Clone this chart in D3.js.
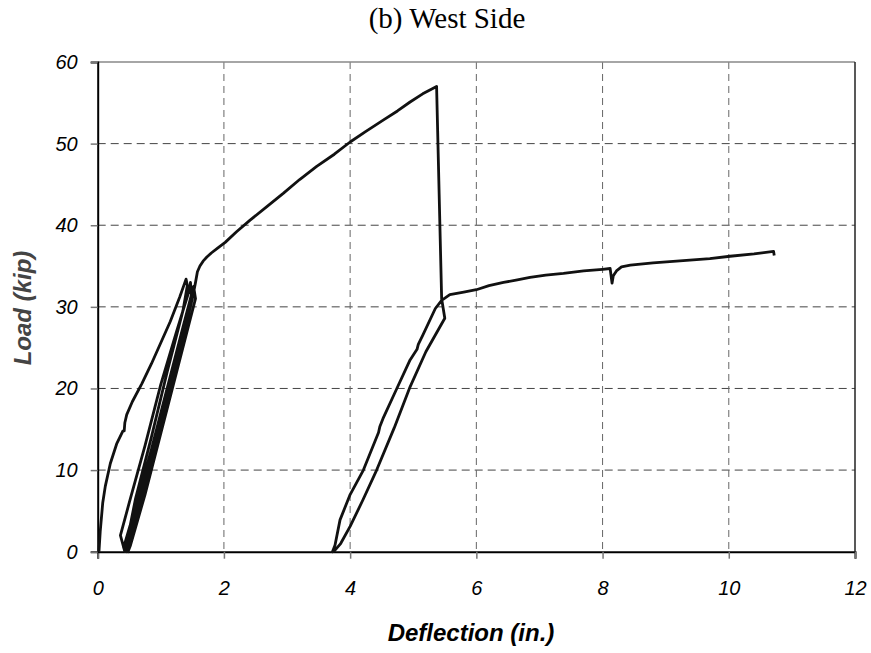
<!DOCTYPE html>
<html><head><meta charset="utf-8">
<script src="https://cdn.jsdelivr.net/npm/d3@7"></script>
<style>body{margin:0;background:#fff}svg{display:block}</style>
</head><body>
<script>
// Tick values
const xTicks = [0, 2, 4, 6, 8, 10, 12];
const yTicks = [0, 10, 20, 30, 40, 50, 60];

// Segment 1: initial loading to first peak
const loadX1 = [0.02,0.04,0.08,0.12,0.2,0.3,0.4,0.42,0.43,0.46,0.55,0.7,0.85,1.0,1.15,1.3,1.4];
const loadY1 = [0,2.5,6,8,10.8,13.2,14.8,14.8,15.8,16.8,18.4,20.6,23.0,25.6,28.2,31.2,33.4];

// Segment 2: unloading / reloading cycles near 1.5 in.
const cycX = [1.42,1.35,1.1,0.85,0.6,0.47,0.43, 0.36,0.5,0.75,1.0,1.25,1.45,1.47,1.49,
              1.45,1.2,0.95,0.7,0.5,0.45, 0.41,0.6,0.85,1.1,1.35,1.52,1.55,
              1.5,1.25,1.0,0.75,0.52,0.48, 0.5,0.75,1.0,1.25,1.5,1.55,1.58];
const cycY = [32.6,29.5,22,14,6.5,1.5,0, 2,6,13,20.5,27,32,33,31,
              30,22.5,15,7.5,1.5,0, 0.5,5.5,12.5,20,27.5,32.5,31,
              29.5,22,14.5,7,0.8,0, 1,8,15.5,23,31,33,34.3];

// Segment 3: post-yield hardening to the peak, then drop
const hardX = [1.62,1.67,1.73,1.8,1.9,2.02,2.2,2.41,2.7,2.94,3.2,3.47,3.75,4.0,4.25,4.53,4.75,4.95,5.15,5.37,5.45,5.5];
const hardY = [35.0,35.6,36.1,36.6,37.2,37.9,39.2,40.6,42.4,43.9,45.6,47.2,48.7,50.2,51.5,52.9,54.0,55.1,56.1,57.0,31.0,28.6];

// Segment 4: unloading to zero and reloading near 5.5 in.
const cyc2X = [5.2,4.95,4.7,4.42,4.2,4.0,3.85,3.75, 3.72,3.76,3.84,4.0,4.21,4.45,4.47,4.52,4.74,4.95,5.06,5.08,5.15,5.35,5.45];
const cyc2Y = [24.5,20.2,15.2,10,6.3,3.1,1.0,0.1, 0,0.8,3.9,7,10,14.6,15.3,16.3,20,23.5,24.8,25.4,26.5,29.8,30.8];

// Segment 5: residual plateau
const platX = [5.58,5.8,6.0,6.2,6.43,6.65,6.85,7.1,7.38,7.7,8.0,8.12,8.15,8.17,8.22,8.3,8.44,8.8,9.33,9.7,10.02,10.4,10.71,10.72];
const platY = [31.5,31.8,32.1,32.6,33.0,33.3,33.6,33.9,34.1,34.4,34.6,34.7,32.9,33.8,34.4,34.9,35.1,35.4,35.7,35.9,36.2,36.5,36.8,36.3];

const W = 871, H = 653;
const m = {left: 97.7, right: 855, top: 62, bottom: 551.7};
const svg = d3.select("body").append("svg").attr("width", W).attr("height", H);
const x = d3.scaleLinear().domain([0, 12]).range([m.left, m.right]);
const y = d3.scaleLinear().domain([0, 60]).range([m.bottom, m.top]);

// gridlines
svg.append("g").selectAll("line").data(yTicks.filter(d => d > 0 && d < 60)).join("line")
  .attr("x1", m.left).attr("x2", m.right).attr("y1", d => y(d)).attr("y2", d => y(d))
  .attr("stroke", "#444").attr("stroke-width", 1).attr("stroke-dasharray", "8,5");
svg.append("g").selectAll("line").data(xTicks.filter(d => d > 0 && d < 12)).join("line")
  .attr("x1", d => x(d)).attr("x2", d => x(d)).attr("y1", m.top).attr("y2", m.bottom)
  .attr("stroke", "#666").attr("stroke-width", 1).attr("stroke-dasharray", "7,5");
// borders
svg.append("line").attr("x1", m.left).attr("x2", m.right).attr("y1", m.top).attr("y2", m.top)
  .attr("stroke", "#888").attr("stroke-width", 1.5);
svg.append("line").attr("x1", m.right).attr("x2", m.right).attr("y1", m.top).attr("y2", m.bottom)
  .attr("stroke", "#222").attr("stroke-width", 1.5);

// axes
const xAxis = svg.append("g").attr("transform", `translate(0,${m.bottom})`)
  .call(d3.axisBottom(x).tickValues(xTicks).tickSize(7).tickPadding(22).tickFormat(d3.format("d")));
const yAxis = svg.append("g").attr("transform", `translate(${m.left},0)`)
  .call(d3.axisLeft(y).tickValues(yTicks).tickSize(7).tickPadding(13).tickFormat(d3.format("d")));
[xAxis, yAxis].forEach(g => {
  g.select(".domain").attr("stroke", "#000").attr("stroke-width", 2);
  g.selectAll(".tick line").attr("stroke", "#777").attr("stroke-width", 1.5);
  g.selectAll("text").attr("font-family", "Liberation Sans, Arial, sans-serif")
    .attr("font-style", "italic").attr("font-size", 20).attr("fill", "#000");
});

// data
const line = d3.line().x(d => x(d[0])).y(d => y(d[1]));
const allX = [].concat(loadX1, cycX, hardX, cyc2X, platX);
const allY = [].concat(loadY1, cycY, hardY, cyc2Y, platY);
const pts = allX.map((v, i) => [v, allY[i]]);
svg.append("path").datum(pts).attr("d", line).attr("fill", "none")
  .attr("stroke", "#111").attr("stroke-width", 2.8).attr("stroke-linejoin", "round");

// titles
svg.append("text").attr("x", 447).attr("y", 28).attr("text-anchor", "middle")
  .attr("font-family", "Liberation Serif, Times New Roman, serif").attr("font-size", 29)
  .text("(b) West Side");
svg.append("text").attr("x", 471).attr("y", 641).attr("text-anchor", "middle")
  .attr("font-family", "Liberation Sans, Arial, sans-serif").attr("font-size", 24)
  .attr("font-weight", "bold").attr("font-style", "italic").text("Deflection (in.)");
svg.append("text").attr("transform", "translate(31,308) rotate(-90)").attr("text-anchor", "middle")
  .attr("font-family", "Liberation Sans, Arial, sans-serif").attr("font-size", 24)
  .attr("font-weight", "bold").attr("font-style", "italic").attr("fill", "#444").text("Load (kip)");
</script>
</body></html>
